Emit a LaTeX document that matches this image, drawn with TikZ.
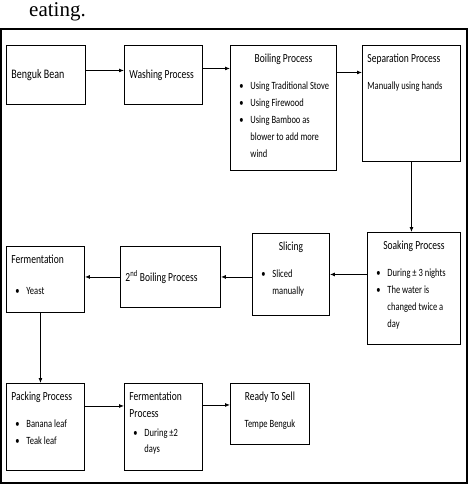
\documentclass[tikz,border=0pt]{standalone}
\usepackage{graphicx}
\usepackage{fontspec}
\setmainfont{Carlito}
\newfontfamily\paperfont{Liberation Serif}
\usetikzlibrary{arrows.meta}

\newcommand{\boxtxt}[4][t]{\scalebox{1}[1.3]{\parbox[c][\dimexpr(#3pt-10pt)*10/13\relax][#1]{\dimexpr#2pt-10pt\relax}{\raggedright\fontsize{8.5}{13}\selectfont #4}}}
\newcommand{\headc}[1]{{\centering\fontsize{9.5}{13}\selectfont\strut #1\par}\vspace{8pt}}
\newcommand{\headl}[2][8pt]{{\fontsize{9.5}{13}\selectfont\strut #2\par}\vspace{#1}}
\newcommand{\bul}[1]{\par\hangindent=15pt\hangafter=1\noindent\makebox[15pt][l]{\hspace{4pt}\textbullet}#1\par}

\begin{document}
\begin{tikzpicture}[x=1pt,y=-1pt,
  box/.style={draw, line width=0.9pt, anchor=north west, inner sep=5pt},
  arr/.style={draw, line width=0.9pt, -{Latex[length=5pt,width=4pt]}}]
\useasboundingbox (0,0) rectangle (468,485);
\node[font=\paperfont\fontsize{21}{21}\selectfont, anchor=base west, inner sep=0pt] (eat) at (29,16) {eating.};
\draw[line width=1.3pt] (1,29) rectangle (467,483);

\node[box] (bean) at (6,45) {\boxtxt[c]{79}{59}{\fontsize{10}{13}\selectfont Benguk Bean}};
\node[box] (wash) at (124,45) {\boxtxt[c]{78}{59}{\fontsize{9.5}{13}\selectfont Washing Process}};
\node[box] (boil) at (230,45) {\boxtxt{106}{125}{\headc{Boiling Process}
  \bul{Using Traditional Stove}
  \bul{Using Firewood}
  \bul{Using Bamboo as\newline blower to add more\newline wind}}};
\node[box] (sep) at (362,45) {\boxtxt{98}{116}{\headl{Separation Process}
  Manually using hands}};
\node[box] (soak) at (367,232) {\boxtxt{93}{112}{\headc{Soaking Process}
  \bul{During \textpm\ 3 nights}
  \bul{The water is\newline changed twice a\newline day}}};
\node[box] (slice) at (252,233) {\boxtxt{77}{82}{\headc{Slicing}
  \bul{Sliced\newline manually}}};
\node[box] (boil2) at (120,246) {\boxtxt[c]{100}{61}{\fontsize{9.5}{13}\selectfont 2\textsuperscript{nd} Boiling Process}};
\node[box] (ferm) at (6,246) {\boxtxt{78}{66}{\headl[11pt]{Fermentation}
  \bul{Yeast}}};
\node[box] (pack) at (6,383) {\boxtxt{78}{87}{\headl{Packing Process}
  \bul{Banana leaf}
  \bul{Teak leaf}}};
\node[box] (fproc) at (124,383) {\boxtxt{78}{87}{\headl[1.5pt]{Fermentation\\Process}
  \bul{During \textpm2\newline days}}};
\node[box] (ready) at (230,383) {\boxtxt{79}{61}{\headc{Ready To Sell}
  {\centering Tempe Benguk\par}}};

\draw[arr] ([yshift=4.5pt]bean.east) -- ([yshift=4.5pt]bean.east -| wash.west);
\draw[arr] ([yshift=6.5pt]wash.east) -- ([yshift=6.5pt]wash.east -| boil.west);
\draw[arr] ([yshift=31pt]sep.west -| boil.east) -- ([yshift=31pt]sep.west);
\draw[arr] (sep.south) -- (sep.south |- soak.north);
\draw[arr] (soak.west |- slice.east) -- (slice.east);
\draw[arr] (slice.west |- boil2.east) -- (boil2.east);
\draw[arr] (boil2.west) -- (boil2.west -| ferm.east);
\draw[arr] ([xshift=-5pt]ferm.south) -- ([xshift=-5pt]ferm.south |- pack.north);
\draw[arr] ([yshift=21pt]pack.east) -- ([yshift=21pt]fproc.west);
\draw[arr] ([yshift=9pt]ready.west -| fproc.east) -- ([yshift=9pt]ready.west);
\end{tikzpicture}
\end{document}
